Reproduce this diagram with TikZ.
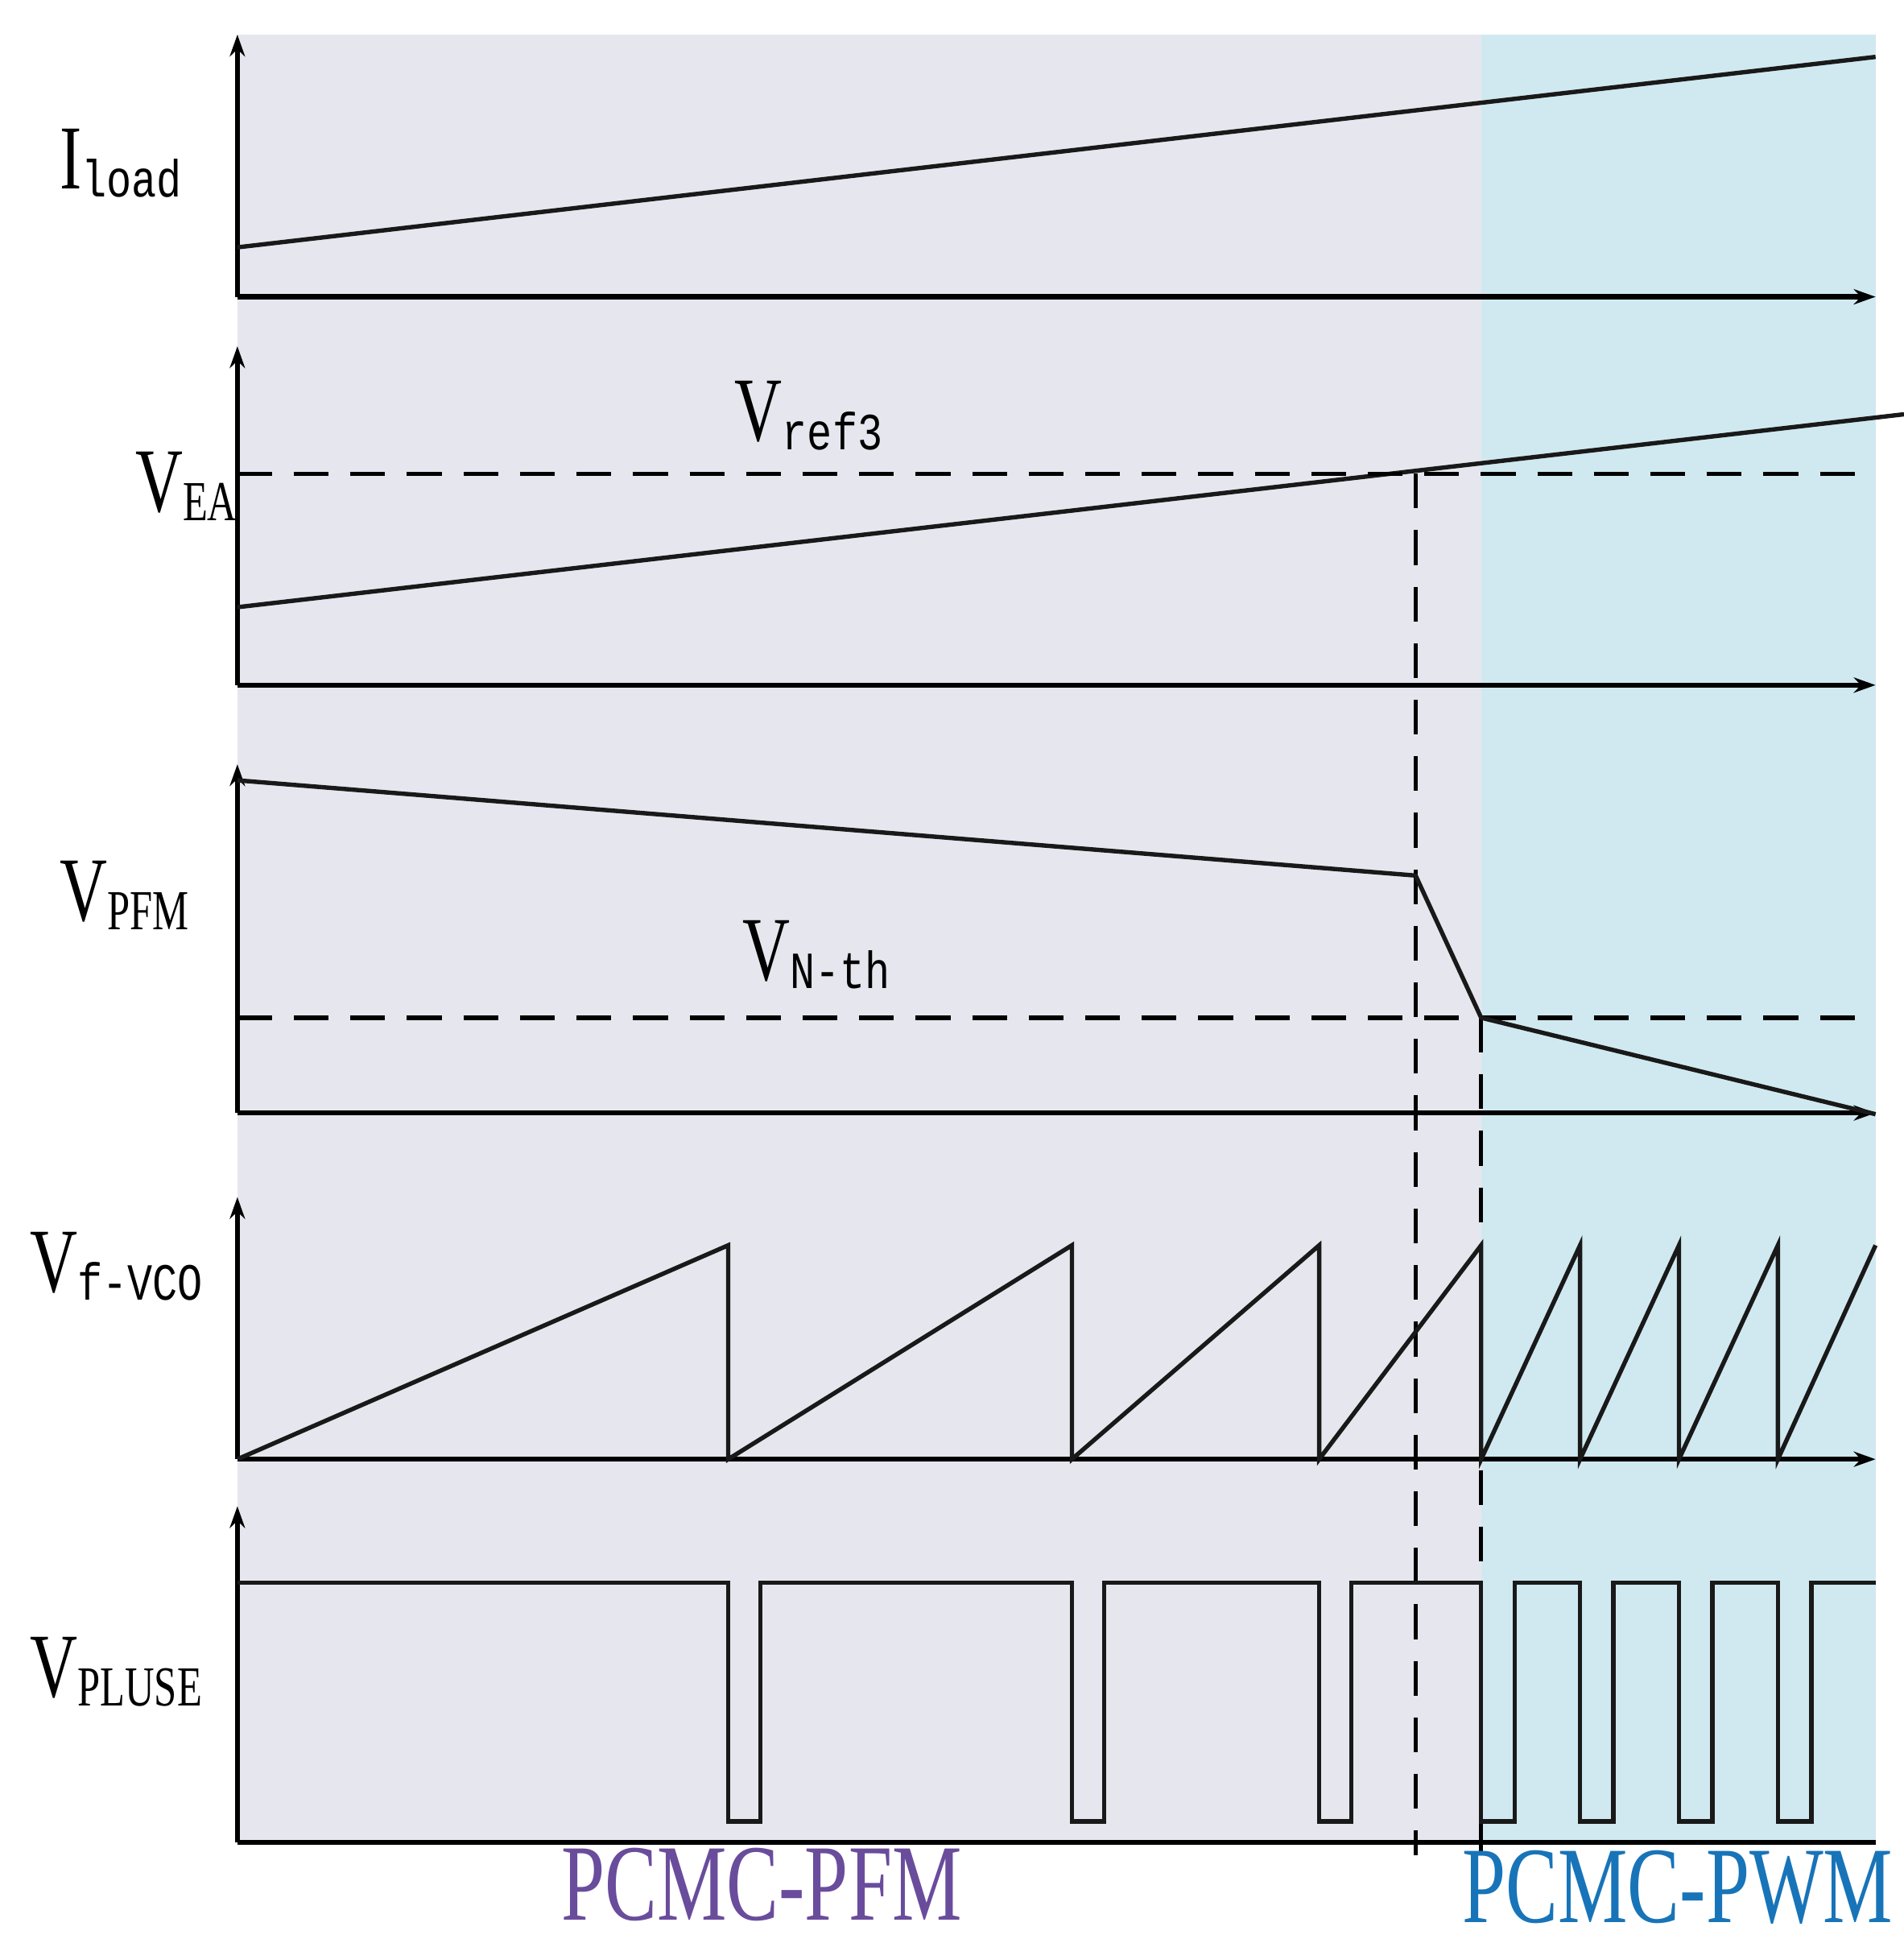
\documentclass[tikz,border=0pt]{standalone}
\usepackage{fontspec}
\usetikzlibrary{arrows.meta}
\setmainfont[FakeStretch=0.72]{Liberation Serif}
\newfontfamily\subf[FakeStretch=0.8]{Liberation Mono}
\begin{document}
\begin{tikzpicture}[x=0.01cm,y=-0.01cm,
  ax/.style={line width=1.2pt,-{Stealth[length=5pt,width=3.5pt]}},
  sig/.style={line width=1pt,black!90},
  dsh/.style={line width=1pt,dash pattern=on 8pt off 5pt},
  lab/.style={font=\fontsize{21}{22}\selectfont,anchor=west}]
\useasboundingbox (0,0) rectangle (1540,1568);
\fill[fill={rgb,255:red,230;green,230;blue,238}] (192,28) rectangle (1198,1490);
\fill[fill={rgb,255:red,208;green,233;blue,240}] (1198,28) rectangle (1517,1490);
% axes
\foreach \b/\t in {240/28,554/280,900/618,1180/968,1490/1218}{
  \draw[ax] (192,\b) -- (192,\t);}
\foreach \b in {240,554,900,1180}{\draw[ax] (192,\b) -- (1517,\b);}
\draw[line width=1.2pt] (192,1490) -- (1517,1490);
\draw[line width=1pt] (1145,1490) -- (1145,1500) (1198,1490) -- (1198,1500);
% signals
\draw[sig] (192,200) -- (1517,46);
\draw[sig] (192,491) -- (1540,335);
\draw[dsh] (192,383) -- (1517,383);
\draw[dsh] (192,823) -- (1517,823);
\draw[dsh] (1145,383) -- (1145,1500);
\draw[dsh] (1198,823) -- (1198,1500);
\draw[sig] (192,631) -- (1145,708) -- (1198,823) -- (1517,901);
\draw[sig] (192,1180) -- (589,1007) -- (589,1180) -- (867,1007) -- (867,1180) -- (1067,1007) -- (1067,1180) -- (1198,1007) -- (1198,1180) -- (1278,1007) -- (1278,1180) -- (1358,1007) -- (1358,1180) -- (1438,1007) -- (1438,1180) -- (1517,1007);
\draw[sig] (192,1280) -- (589,1280) -- (589,1473) -- (615,1473) -- (615,1280)
 -- (867,1280) -- (867,1473) -- (893,1473) -- (893,1280)
 -- (1067,1280) -- (1067,1473) -- (1093,1473) -- (1093,1280)
 -- (1198,1280) -- (1198,1473) -- (1225,1473) -- (1225,1280)
 -- (1278,1280) -- (1278,1473) -- (1305,1473) -- (1305,1280)
 -- (1358,1280) -- (1358,1473) -- (1385,1473) -- (1385,1280)
 -- (1438,1280) -- (1438,1473) -- (1465,1473) -- (1465,1280) -- (1517,1280);
% labels
\node[lab] (l1) at (36,132) {I\raisebox{-2pt}{\subf\fontsize{12}{14}\selectfont load}};
\node[lab] (l2) at (97,393) {V\raisebox{-2pt}{\fontsize{13}{14}\selectfont EA}};
\node[lab] (l3) at (582,336) {V\raisebox{-2pt}{\subf\fontsize{12}{14}\selectfont ref3}};
\node[lab] (l4) at (36,724) {V\raisebox{-2pt}{\fontsize{13}{14}\selectfont PFM}};
\node[lab] (l5) at (588,772) {V\raisebox{-2pt}{\subf\fontsize{12}{14}\selectfont N-th}};
\node[lab] (l6) at (12,1024) {V\raisebox{-2pt}{\subf\fontsize{12}{14}\selectfont f-VCO}};
\node[lab] (l7) at (12,1352) {V\raisebox{-2pt}{\fontsize{13}{14}\selectfont PLUSE}};
\node[font=\fontsize{25}{26}\selectfont,text={rgb,255:red,106;green,76;blue,156}] (m1) at (616,1524) {PCMC-PFM};
\node[font=\fontsize{25}{26}\selectfont,text={rgb,255:red,24;green,116;blue,184}] (m2) at (1357,1526) {PCMC-PWM};
\end{tikzpicture}
\end{document}
